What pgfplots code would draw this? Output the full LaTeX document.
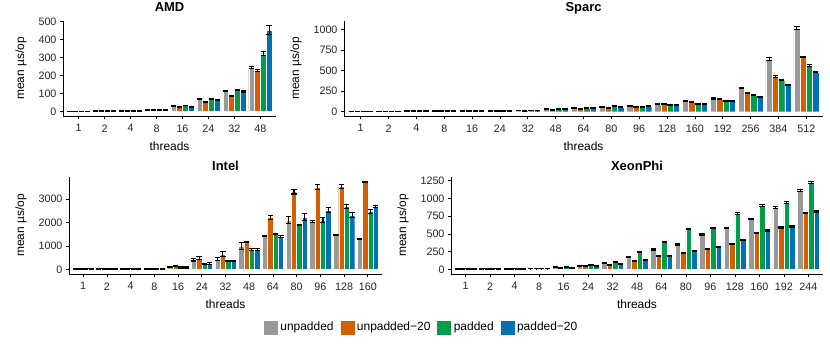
\documentclass[border=0pt]{standalone}
\usepackage{pgfplots}
\pgfplotsset{compat=1.18}
\usepackage{pgfplotstable}
\usepackage{fontspec}
\setmainfont{Liberation Sans}
\definecolor{cgrey}{RGB}{153,153,153}
\definecolor{corange}{RGB}{213,94,0}
\definecolor{cgreen}{RGB}{0,158,73}
\definecolor{cblue}{RGB}{0,114,178}

\pgfplotstableread{
i u ue a ae p pe b be
1 2 1 2 1 2 1 2 1
2 3 1 3 1 3 1 3 1
3 5 1 5 1 5 1 5 1
4 10 1 9 1 10 1 9 1
5 33 2 25 2 34 2 27 2
6 69 3 53 2 71 2 65 2
7 114 4 89 3 121 3 112 3
8 244 5 228 4 322 10 455 25
}\amd

\pgfplotstableread{
i u ue a ae p pe b be
1 3 4 3 4 3 4 3 4
2 4 4 4 4 4 4 4 4
3 5 4 5 4 5 4 5 4
4 6 4 6 4 6 4 6 4
5 8 4 8 4 8 4 8 4
6 12 4 11 4 12 4 12 4
7 15 5 13 4 15 4 14 4
8 30 5 22 4 30 5 28 5
9 42 5 36 5 42 5 45 5
10 52 6 44 5 65 6 57 5
11 65 6 61 5 57 5 73 6
12 94 6 94 6 85 6 82 6
13 130 7 118 6 98 6 98 6
14 162 7 155 6 126 6 126 6
15 289 9 228 7 199 7 183 7
16 642 15 427 8 386 8 325 7
17 1020 20 667 8 561 8 484 7
}\sparc

\pgfplotstableread{
i u ue a ae p pe b be
1 10 15 10 15 10 15 10 15
2 15 15 15 15 15 15 15 15
3 25 15 25 15 25 15 25 15
4 40 15 35 15 40 15 40 15
5 100 20 150 20 90 20 90 20
6 425 60 495 80 240 20 260 30
7 450 50 665 100 355 20 355 20
8 990 150 1190 20 850 40 850 40
9 1440 20 2235 80 1525 30 1415 30
10 2120 150 3325 100 1910 30 2235 150
11 2050 50 3510 100 2120 100 2545 100
12 1470 20 3535 80 2690 100 2330 100
13 1315 20 3720 20 2475 100 2690 30
}\intel

\pgfplotstableread{
i u ue a ae p pe b be
1 3 5 3 5 3 5 3 5
2 5 5 5 5 5 5 5 5
3 8 5 8 5 8 5 8 5
4 15 5 15 5 15 5 15 5
5 35 6 25 5 33 6 25 5
6 56 6 45 5 70 6 50 5
7 93 7 70 6 103 7 80 6
8 173 8 117 6 247 8 140 6
9 280 9 187 7 387 9 187 7
10 350 10 233 7 574 10 266 7
11 499 12 290 7 583 10 313 7
12 583 10 359 7 793 12 420 7
13 709 10 513 8 901 12 551 8
14 872 12 593 8 942 12 607 8
15 1110 12 793 8 1222 14 816 8
}\xeon

\pgfplotsset{
  panel/.style={
    scale only axis,
    axis lines=left,
    axis line style={-, line width=0.7bp, black},
    tick align=outside,
    major tick length=3bp,
    tick style={black, line width=0.7bp},
    xmin=0.4,
    ybar=0pt,
    bar width=0.225,
    ylabel={mean µs/op},
    xlabel={threads},
    /pgf/number format/assume math mode=true,
    /pgf/number format/1000 sep={},
    tick label style={font=\fontsize{10.8}{12}\selectfont, color=black!85},
    xticklabel style={yshift=-2bp},
    label style={font=\fontsize{12}{14}\selectfont},
    xlabel style={yshift=-3bp},
    ylabel style={yshift=5bp},
    error bars/y dir=both,
    error bars/y explicit,
    error bars/error bar style={line width=1.1bp, black},
    error bars/error mark options={rotate=90, mark size=2.7bp, line width=1.1bp, black},
  },
  toprow/.style={title style={font=\bfseries\fontsize{13}{15}\selectfont, anchor=base, at={(0.5,1)}, yshift=4bp}},
  botrow/.style={title style={font=\bfseries\fontsize{13}{15}\selectfont, anchor=base, at={(0.5,1)}, yshift=0.5bp}},
  sb/.style={fill=#1, draw=white, line width=0.4bp,
    legend image code/.code={\fill[fill=#1, draw=white, line width=0.4bp] (0bp,-7.5bp) rectangle (15bp,7.5bp);}},
}

\begin{document}
\begin{tikzpicture}
\path[use as bounding box] (0bp,0bp) rectangle (830bp,-346bp);

% AMD
\begin{axis}[panel, toprow, at={(63bp,-116bp)}, anchor=south west,
  width=213bp, height=95bp, xmax=8.6, ymin=-24, ymax=504,
  ytick={0,100,200,300,400,500},
  xtick={1,...,8}, xticklabels={1,2,4,8,16,24,32,48},
  title={AMD}]
\addplot[sb=cgrey, bar shift=-0.3375] table[x=i, y=u, y error=ue] \amd;
\addplot[sb=corange, bar shift=-0.1125] table[x=i, y=a, y error=ae] \amd;
\addplot[sb=cgreen, bar shift=0.1125] table[x=i, y=p, y error=pe] \amd;
\addplot[sb=cblue, bar shift=0.3375] table[x=i, y=b, y error=be] \amd;
\end{axis}

% Sparc
\begin{axis}[panel, toprow, at={(344bp,-116bp)}, anchor=south west,
  width=479bp, height=95bp, xmax=17.6, ymin=-52, ymax=1102,
  ytick={0,250,500,750,1000},
  xtick={1,...,17}, xticklabels={1,2,4,8,16,24,32,48,64,80,96,128,160,192,256,384,512},
  title={Sparc}]
\addplot[sb=cgrey, bar shift=-0.3375] table[x=i, y=u, y error=ue] \sparc;
\addplot[sb=corange, bar shift=-0.1125] table[x=i, y=a, y error=ae] \sparc;
\addplot[sb=cgreen, bar shift=0.1125] table[x=i, y=p, y error=pe] \sparc;
\addplot[sb=cblue, bar shift=0.3375] table[x=i, y=b, y error=be] \sparc;
\end{axis}

% Intel
\begin{axis}[panel, botrow, at={(69bp,-274bp)}, anchor=south west,
  width=313bp, height=97bp, xmax=13.6, ymin=-188, ymax=3948,
  ytick={0,1000,2000,3000},
  xtick={1,...,13}, xticklabels={1,2,4,8,16,24,32,48,64,80,96,128,160},
  title={Intel},
  legend columns=4,
  legend style={at={(1.125,-0.55)}, anchor=center, draw=none, fill=none,
    font=\fontsize{12}{14}\selectfont,
    /tikz/every even column/.append style={column sep=4bp}},
  legend cell align=left]
\addplot[sb=cgrey, bar shift=-0.3375] table[x=i, y=u, y error=ue] \intel;
\addplot[sb=corange, bar shift=-0.1125] table[x=i, y=a, y error=ae] \intel;
\addplot[sb=cgreen, bar shift=0.1125] table[x=i, y=p, y error=pe] \intel;
\addplot[sb=cblue, bar shift=0.3375] table[x=i, y=b, y error=be] \intel;
\addlegendentry{unpadded}
\addlegendentry{unpadded−20}
\addlegendentry{padded}
\addlegendentry{padded−20}
\end{axis}

% XeonPhi
\begin{axis}[panel, botrow, at={(451bp,-274bp)}, anchor=south west,
  width=372bp, height=97bp, xmax=15.6, ymin=-62, ymax=1302,
  ytick={0,250,500,750,1000,1250},
  xtick={1,...,15}, xticklabels={1,2,4,8,16,24,32,48,64,80,96,128,160,192,244},
  title={XeonPhi}]
\addplot[sb=cgrey, bar shift=-0.3375] table[x=i, y=u, y error=ue] \xeon;
\addplot[sb=corange, bar shift=-0.1125] table[x=i, y=a, y error=ae] \xeon;
\addplot[sb=cgreen, bar shift=0.1125] table[x=i, y=p, y error=pe] \xeon;
\addplot[sb=cblue, bar shift=0.3375] table[x=i, y=b, y error=be] \xeon;
\end{axis}
\end{tikzpicture}
\end{document}
